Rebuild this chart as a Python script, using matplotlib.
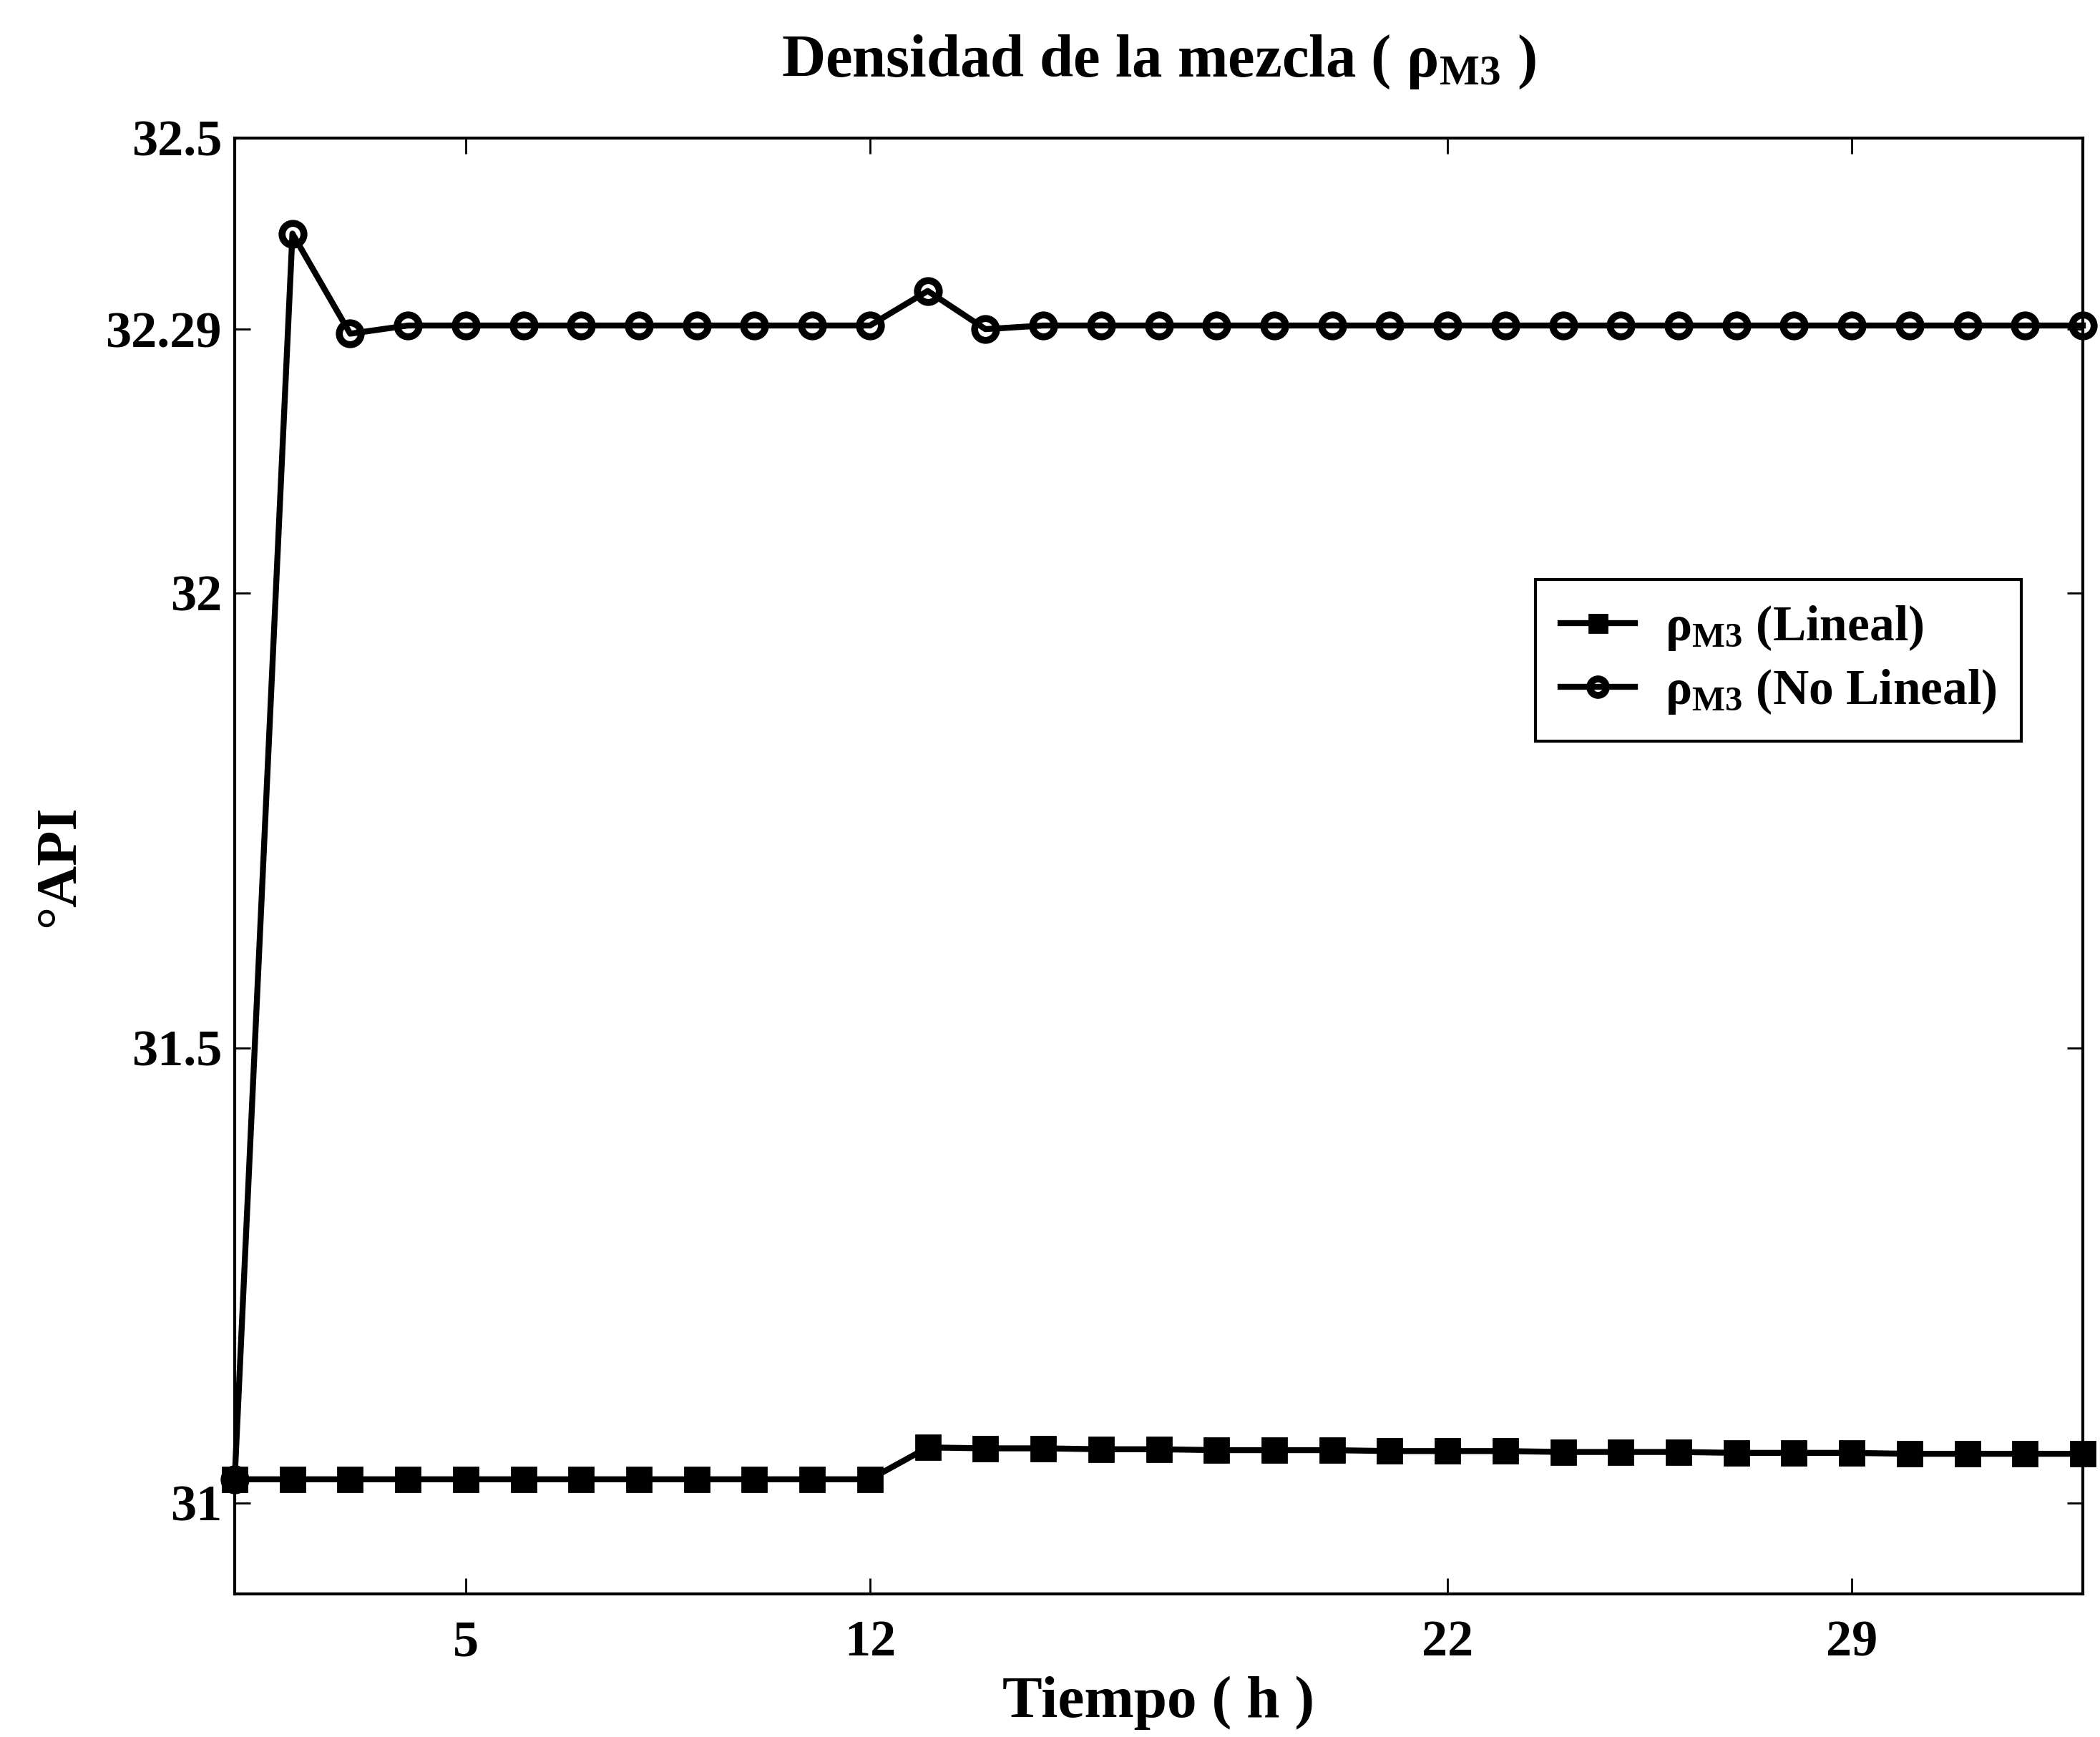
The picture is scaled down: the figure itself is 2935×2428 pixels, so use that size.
import numpy as np
import matplotlib
matplotlib.use("Agg")
import matplotlib.pyplot as plt

plt.rcParams['font.family'] = ['Liberation Serif', 'DejaVu Serif']
plt.rcParams['font.weight'] = 'bold'
plt.rcParams['mathtext.fontset'] = 'custom'
plt.rcParams['mathtext.rm'] = 'Liberation Serif:bold'
plt.rcParams['mathtext.it'] = 'Liberation Serif:bold'
plt.rcParams['mathtext.bf'] = 'Liberation Serif:bold'

# ---- data ----
tiempo = list(range(1, 34))
rho_lineal = [31.026] * 12 + [31.061, 31.060, 31.060, 31.059, 31.059, 31.058, 31.058,
                               31.058, 31.057, 31.057, 31.057, 31.056, 31.056, 31.056,
                               31.055, 31.055, 31.055, 31.054, 31.054, 31.054, 31.054]
rho_no_lineal = [31.026, 32.395, 32.285] + [32.294] * 9 + [32.332, 32.290] + [32.294] * 19
xticks = [5, 12, 22, 29]
yticks = [31, 31.5, 32, 32.29, 32.5]
ytick_labels = ['31', '31.5', '32', '32.29', '32.5']

W, H = 2935, 2428
fig = plt.figure(figsize=(W / 100, H / 100), dpi=100)
L, R, T, B = 328, 2911, 193, 2228
ax = fig.add_axes([L / W, 1 - B / H, (R - L) / W, (B - T) / H])

ax.plot(tiempo, rho_lineal, color='black', lw=6, marker='s', ms=24,
        mfc='black', mec='black', mew=2, clip_on=False, zorder=3,
        label=r'ρ$_{\mathrm{M3}}$ (Lineal)')
ax.plot(tiempo, rho_no_lineal, color='black', lw=6, marker='o', ms=22,
        mfc='none', mec='black', mew=7, clip_on=False, zorder=3,
        label=r'ρ$_{\mathrm{M3}}$ (No Lineal)')

ax.set_xlim(1, 33)
ax.set_ylim(30.9, 32.5)
ax.set_xticks(xticks)
ax.set_xticklabels([str(t) for t in xticks])
ax.set_yticks(yticks)
ax.set_yticklabels(ytick_labels)

ax.tick_params(direction='in', length=16, width=2, top=True, right=True,
               labelsize=52)
ax.tick_params(axis='x', pad=26)
ax.tick_params(axis='y', pad=13)
for s in ax.spines.values():
    s.set_linewidth(3)

ax.set_title(r'Densidad de la mezcla ( ρ$_{\mathrm{M3}}$ )', fontsize=61,
             fontweight='bold', pad=62)
ax.set_xlabel('Tiempo ( h )', fontsize=60, fontweight='bold', labelpad=10)
ax.set_ylabel('°API', fontsize=58, fontweight='bold', labelpad=20)

leg = ax.legend(loc='upper left', bbox_to_anchor=(0.704, 0.697), borderaxespad=0,
                fontsize=50, handlelength=1.5, handletextpad=0.6, markerscale=0.75,
                fancybox=False, framealpha=1, edgecolor='black', borderpad=0.5,
                labelspacing=0.3)
leg.get_frame().set_linewidth(3)

fig.savefig('out.png', dpi=100, facecolor='white')
